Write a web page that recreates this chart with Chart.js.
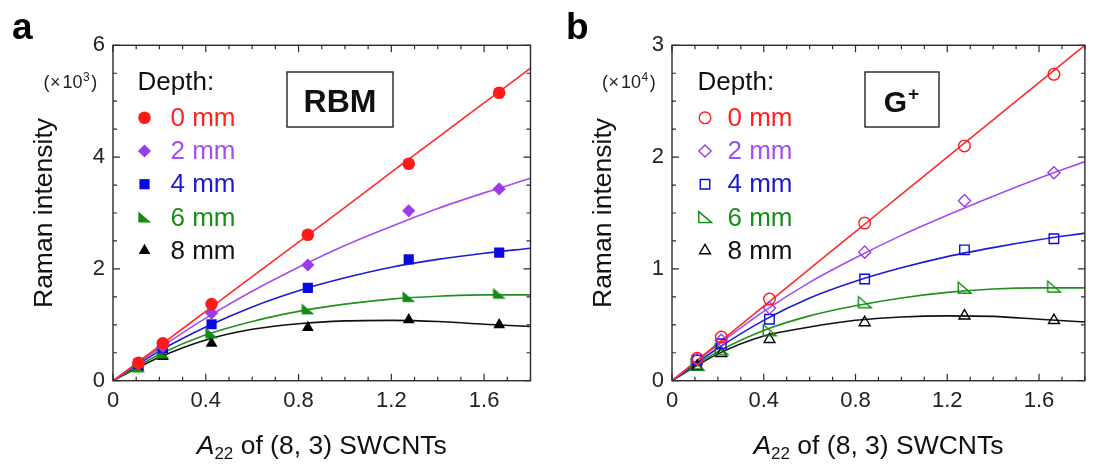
<!DOCTYPE html>
<html><head><meta charset="utf-8">
<script src="https://cdn.jsdelivr.net/npm/chart.js@4.4.1/dist/chart.umd.min.js"></script>
<style>
html,body{margin:0;padding:0;background:#fff;width:1093px;height:464px;overflow:hidden;}
canvas{position:absolute;top:0;}
#c1{left:0;} #c2{left:550px;}
</style></head><body>
<canvas id="c1" width="550" height="464"></canvas>
<canvas id="c2" width="543" height="464"></canvas>
<script>
// ---------------- DATA ----------------
const depthLabels = ['0 mm', '2 mm', '4 mm', '6 mm', '8 mm'];
const a22 = [0.11, 0.215, 0.425, 0.84, 1.275, 1.665];          // measured A22 values
// RBM intensities (x10^3)
const rbm0 = [0.32, 0.67, 1.37, 2.61, 3.88, 5.15];
const rbm2 = [0.31, 0.61, 1.21, 2.07, 3.04, 3.43];
const rbm4 = [0.30, 0.58, 1.01, 1.66, 2.17, 2.29];
const rbm6 = [0.24, 0.49, 0.85, 1.28, 1.50, 1.56];
const rbm8 = [0.24, 0.43, 0.67, 0.95, 1.09, 1.00];
// G+ intensities (x10^4)
const g0 = [0.20, 0.39, 0.73, 1.41, 2.10, 2.74];
const g2 = [0.19, 0.36, 0.65, 1.15, 1.61, 1.86];
const g4 = [0.185, 0.33, 0.55, 0.91, 1.17, 1.27];
const g6 = [0.14, 0.28, 0.45, 0.70, 0.83, 0.84];
const g8 = [0.13, 0.245, 0.37, 0.52, 0.58, 0.54];
// fitted curves
const fitX = [0, 0.2, 0.4, 0.6, 0.8, 1.0, 1.2, 1.4, 1.6, 1.8];
const rbmFit0 = [0, 0.62, 1.24, 1.86, 2.48, 3.10, 3.73, 4.35, 4.97, 5.59];
const rbmFit2 = [0, 0.58, 1.12, 1.60, 2.03, 2.42, 2.76, 3.08, 3.36, 3.62];
const rbmFit4 = [0, 0.53, 0.96, 1.32, 1.61, 1.84, 2.03, 2.17, 2.28, 2.37];
const rbmFit6 = [0, 0.47, 0.82, 1.06, 1.24, 1.37, 1.46, 1.51, 1.535, 1.535];
const rbmFit8 = [0, 0.42, 0.73, 0.92, 1.02, 1.07, 1.08, 1.06, 1.01, 0.97];
const gFit0 = [0, 0.333, 0.667, 1.0, 1.333, 1.667, 2.0, 2.333, 2.667, 3.0];
const gFit2 = [0, 0.32, 0.62, 0.88, 1.10, 1.30, 1.48, 1.65, 1.81, 1.96];
const gFit4 = [0, 0.29, 0.54, 0.74, 0.89, 1.01, 1.11, 1.19, 1.26, 1.32];
const gFit6 = [0, 0.26, 0.45, 0.58, 0.67, 0.74, 0.79, 0.82, 0.83, 0.83];
const gFit8 = [0, 0.24, 0.40, 0.48, 0.54, 0.57, 0.58, 0.575, 0.55, 0.525];
// axis ticks
const xTickValues = [0, 0.4, 0.8, 1.2, 1.6];
const xTickLabels = ['0', '0.4', '0.8', '1.2', '1.6'];
const rbmTickValues = [0, 2, 4, 6];
const rbmTickLabels = ['0', '2', '4', '6'];
const gTickValues = [0, 1, 2, 3];
const gTickLabels = ['0', '1', '2', '3'];

// ---------------- STYLE ----------------
const FONT = '"Liberation Sans", Arial, sans-serif';
const lineColors = ['#ff2a2a', '#a64cf0', '#1c1cd0', '#219021', '#111111'];
const markColors = ['#ff1a1a', '#9a3de8', '#0a0ae0', '#138a13', '#000000'];
const textColors = ['#ff2020', '#a050ee', '#1a1ad0', '#1a8c1a', '#111111'];
const radii = [6.3, 6.6, 7.2, 7, 6.8];

function triPath(g, cx, cy) {
  g.moveTo(cx - 6.2, cy - 5.8); g.lineTo(cx - 6.2, cy + 5.2); g.lineTo(cx + 6.6, cy + 5.2); g.closePath();
}
function rightTri(color, filled) {
  const c = document.createElement('canvas');
  c.width = 17; c.height = 16;
  const g = c.getContext('2d');
  g.beginPath(); triPath(g, 8.5, 8);
  if (filled) { g.fillStyle = color; g.fill(); }
  else { g.strokeStyle = color; g.lineWidth = 1.4; g.stroke(); }
  return c;
}

const filledStyles = ['circle', 'rectRot', 'rect', rightTri(markColors[3], true), 'triangle'];
const openStyles = ['circle', 'rectRot', 'rect', rightTri(markColors[3], false), 'triangle'];

function toXY(xs, ys) { return xs.map((x, i) => ({ x: x, y: ys[i] })); }

function buildDatasets(pts, fits, filled) {
  const ds = [];
  pts.forEach((p, i) => {
    const r = filled ? radii[i] : radii[i] - 0.5;
    ds.push({
      type: 'scatter', label: depthLabels[i], data: toXY(a22, p), order: 0,
      pointStyle: filled ? filledStyles[i] : openStyles[i],
      pointRadius: r, pointHoverRadius: r,
      pointBackgroundColor: filled ? markColors[i] : 'rgba(0,0,0,0)',
      pointBorderColor: markColors[i], pointBorderWidth: filled ? 0 : 1.4,
      showLine: false
    });
  });
  fits.forEach((f, i) => {
    ds.push({
      type: 'line', label: depthLabels[i] + ' fit', data: toXY(fitX, f), order: 1,
      borderColor: lineColors[i], borderWidth: 1.6, pointRadius: 0,
      cubicInterpolationMode: 'monotone', fill: false
    });
  });
  return ds;
}

function drawMarker(ctx, i, x, y, filled) {
  const col = markColors[i];
  const r = filled ? radii[i] : radii[i] - 0.5;
  ctx.save();
  ctx.fillStyle = col; ctx.strokeStyle = col; ctx.lineWidth = 1.4;
  ctx.beginPath();
  if (i === 0) { ctx.arc(x, y, r, 0, Math.PI * 2); }
  else if (i === 1) { ctx.moveTo(x, y - r); ctx.lineTo(x + r, y); ctx.lineTo(x, y + r); ctx.lineTo(x - r, y); ctx.closePath(); }
  else if (i === 2) { const s = r * Math.SQRT1_2; ctx.rect(x - s, y - s, 2 * s, 2 * s); }
  else if (i === 3) { triPath(ctx, x, y); }
  else { ctx.moveTo(x, y - r); ctx.lineTo(x + r * 0.866, y + r * 0.5); ctx.lineTo(x - r * 0.866, y + r * 0.5); ctx.closePath(); }
  if (filled) ctx.fill(); else ctx.stroke();
  ctx.restore();
}

const decor = {
  id: 'decor',
  afterDatasetsDraw(chart, args, o) {
    const ctx = chart.ctx, a = chart.chartArea, xs = chart.scales.x, ys = chart.scales.y;
    ctx.save();
    // frame
    ctx.strokeStyle = '#2a2a2a'; ctx.lineWidth = 1.4;
    ctx.strokeRect(a.left, a.top, a.right - a.left, a.bottom - a.top);
    // inward ticks on all four sides
    ctx.lineWidth = 1.2;
    ctx.beginPath();
    for (let i = 0; i <= 18; i++) {
      const px = xs.getPixelForValue(i * 0.1);
      const L = (i % 4 === 0) ? 7 : 4;
      ctx.moveTo(px, a.bottom); ctx.lineTo(px, a.bottom - L);
      ctx.moveTo(px, a.top); ctx.lineTo(px, a.top + L);
    }
    for (let i = 0; i <= o.yMinorCount; i++) {
      const py = ys.getPixelForValue(i * o.yMinor);
      const L = (i % o.yMajorEvery === 0) ? 7 : 4;
      ctx.moveTo(a.left, py); ctx.lineTo(a.left + L, py);
      ctx.moveTo(a.right, py); ctx.lineTo(a.right - L, py);
    }
    ctx.stroke();
    // panel letter
    ctx.fillStyle = '#000';
    ctx.font = 'bold 37px ' + FONT;
    ctx.textBaseline = 'alphabetic'; ctx.textAlign = 'left';
    ctx.fillText(o.letter, o.letterX, 39);
    // multiplier
    ctx.fillStyle = '#222';
    ctx.font = '18px ' + FONT;
    let mx = o.multX;
    const base = 87.5;
    ctx.fillText('(', mx, base); mx += ctx.measureText('(').width + 0.5;
    ctx.fillText('×', mx, base); mx += ctx.measureText('×').width + 2;
    ctx.fillText('10', mx, base); mx += ctx.measureText('10').width + 0.5;
    ctx.font = '12px ' + FONT;
    ctx.fillText(o.power, mx, base - 7); mx += ctx.measureText(o.power).width + 1.5;
    ctx.font = '18px ' + FONT;
    ctx.fillText(')', mx, base);
    // mode box
    ctx.lineWidth = 1.4; ctx.strokeStyle = '#222';
    ctx.strokeRect(o.box[0], o.box[1], o.box[2], o.box[3]);
    ctx.fillStyle = '#111';
    ctx.textBaseline = 'alphabetic';
    const cx = o.box[0] + o.box[2] / 2, by = o.box[1] + 40;
    if (o.sup) {
      ctx.font = 'bold 30px ' + FONT;
      const w1 = ctx.measureText(o.mode).width;
      ctx.font = 'bold 19px ' + FONT;
      const w2 = ctx.measureText(o.sup).width;
      const start = cx - (w1 + w2) / 2 - 1;
      ctx.font = 'bold 30px ' + FONT; ctx.textAlign = 'left';
      ctx.fillText(o.mode, start, by);
      ctx.font = 'bold 19px ' + FONT;
      ctx.fillText(o.sup, start + w1 + 1, by - 12);
    } else {
      ctx.font = 'bold 32px ' + FONT;
      ctx.textAlign = 'center';
      ctx.fillText(o.mode, cx, by);
    }
    // legend
    ctx.textAlign = 'left'; ctx.textBaseline = 'middle';
    ctx.font = '26px ' + FONT; ctx.fillStyle = '#111';
    ctx.fillText('Depth:', o.legX, 83);
    for (let i = 0; i < depthLabels.length; i++) {
      const yy = 117.8 + 33.2 * i;
      drawMarker(ctx, i, o.legX + o.mDX, yy, o.filled);
      ctx.fillStyle = textColors[i];
      ctx.font = '26px ' + FONT;
      ctx.fillText(depthLabels[i], o.legX + o.tDX, yy + 1);
    }
    // x axis title: A22 of (8, 3) SWCNTs
    ctx.fillStyle = '#111';
    ctx.textBaseline = 'alphabetic';
    const ty = 454;
    const pA = 'A', p22 = '22', pRest = ' of (8, 3) SWCNTs';
    ctx.font = 'italic 26.5px ' + FONT; const wA = ctx.measureText(pA).width;
    ctx.font = '17px ' + FONT; const w22 = ctx.measureText(p22).width;
    ctx.font = '26.5px ' + FONT; const wR = ctx.measureText(pRest).width;
    let sx = (a.left + a.right) / 2 - (wA + w22 + wR) / 2;
    ctx.font = 'italic 26.5px ' + FONT; ctx.fillText(pA, sx, ty); sx += wA;
    ctx.font = '17px ' + FONT; ctx.fillText(p22, sx, ty + 5); sx += w22;
    ctx.font = '26.5px ' + FONT; ctx.fillText(pRest, sx, ty);
    ctx.restore();
  }
};

function makeChart(id, pts, fits, filled, yMax, yVals, yLabels, opts, padRight) {
  return new Chart(document.getElementById(id), {
    data: { datasets: buildDatasets(pts, fits, filled) },
    plugins: [decor],
    options: {
      responsive: false, animation: false, devicePixelRatio: 1,
      layout: { padding: { left: 0, right: padRight, top: 45.3, bottom: 0 } },
      plugins: { legend: { display: false }, tooltip: { enabled: false }, decor: opts },
      scales: {
        x: {
          type: 'linear', min: 0, max: 1.8,
          grid: { display: false, drawTicks: false },
          border: { display: false },
          afterBuildTicks: (s) => { s.ticks = xTickValues.map(v => ({ value: v })); },
          ticks: {
            autoSkip: false, maxRotation: 0, padding: 7, color: '#222', font: { family: FONT, size: 22 },
            callback: (v) => { const k = xTickValues.findIndex(t => Math.abs(t - v) < 1e-6); return k >= 0 ? xTickLabels[k] : ''; }
          },
          afterFit: (s) => { s.height = 464 - 380.7; }
        },
        y: {
          type: 'linear', min: 0, max: yMax,
          grid: { display: false, drawTicks: false },
          border: { display: false },
          afterBuildTicks: (s) => { s.ticks = yVals.map(v => ({ value: v })); },
          ticks: {
            autoSkip: false, padding: 8, color: '#222', font: { family: FONT, size: 22 },
            callback: (v) => { const k = yVals.findIndex(t => Math.abs(t - v) < 1e-6); return k >= 0 ? yLabels[k] : ''; }
          },
          title: { display: true, text: 'Raman intensity', color: '#111', font: { family: FONT, size: 26.5 }, padding: { top: o2pad(opts), bottom: 0 } },
          afterFit: (s) => { s.width = opts.yWidth; }
        }
      }
    }
  });
}
function o2pad(opts) { return opts.titleX - 15.9; }

makeChart('c1', [rbm0, rbm2, rbm4, rbm6, rbm8], [rbmFit0, rbmFit2, rbmFit4, rbmFit6, rbmFit8], true,
  6, rbmTickValues, rbmTickLabels,
  { yWidth: 113, titleX: 45, yMinor: 0.5, yMinorCount: 12, yMajorEvery: 4, letter: 'a', letterX: 12, multX: 43.5, power: '3',
    box: [287, 72, 106, 55], mode: 'RBM', sup: '', legX: 137.5, mDX: 7, tDX: 33, filled: true }, 19.5);

makeChart('c2', [g0, g2, g4, g6, g8], [gFit0, gFit2, gFit4, gFit6, gFit8], false,
  3, gTickValues, gTickLabels,
  { yWidth: 122, titleX: 54, yMinor: 0.25, yMinorCount: 12, yMajorEvery: 4, letter: 'b', letterX: 16, multX: 52, power: '4',
    box: [315, 72, 74, 55], mode: 'G', sup: '+', legX: 147.5, mDX: 7.5, tDX: 30, filled: false }, 3.5);
</script>
</body></html>
